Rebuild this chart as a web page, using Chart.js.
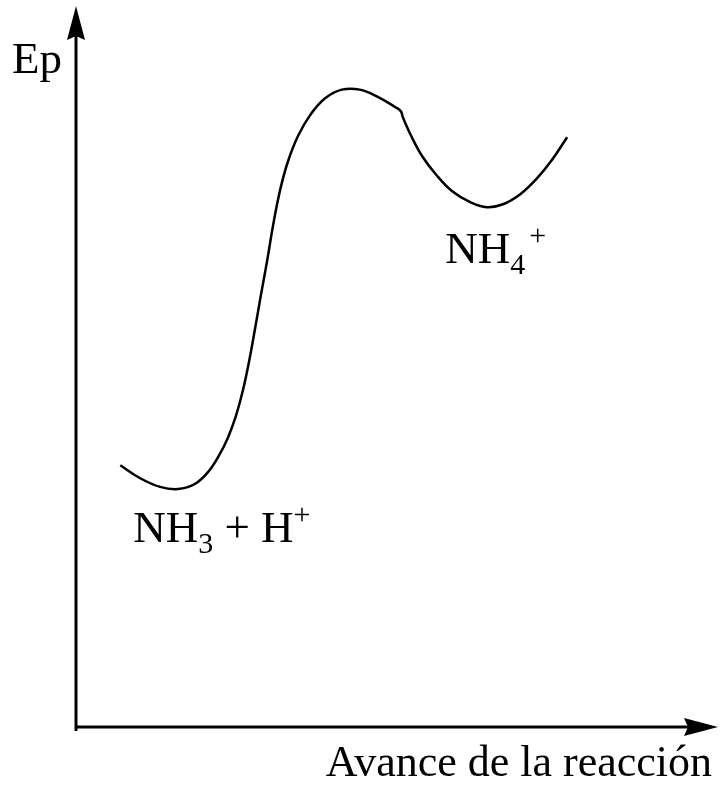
<!DOCTYPE html>
<html>
<head>
    <meta charset="utf-8">
    <title>Ep vs Avance de la reacción</title>
    <style>
        body {
            margin: 0;
            background-color: white;
        }
    </style>
</head>
<body>
    <canvas id="energyChart" width="722" height="786"></canvas>

    <script src="https://cdn.jsdelivr.net/npm/chart.js"></script>
    <script>
        // curve (x: reaction progress, y: Ep, both 0..10)
        const progress = [0.69, 1.00, 1.31, 1.59, 1.85, 2.06, 2.23, 2.37, 2.49, 2.60, 2.70, 2.79, 2.88, 2.98, 3.07, 3.18, 3.30, 3.46, 3.65, 3.88, 4.14, 4.42, 4.70, 4.97, 5.06, 5.09, 5.22, 5.39, 5.61, 5.86, 6.14, 6.40, 6.65, 6.92, 7.18, 7.41, 7.65];
        const energy = [3.63, 3.45, 3.33, 3.30, 3.37, 3.54, 3.77, 4.02, 4.31, 4.67, 5.09, 5.53, 5.99, 6.48, 6.96, 7.45, 7.84, 8.20, 8.49, 8.72, 8.84, 8.84, 8.74, 8.60, 8.54, 8.46, 8.20, 7.92, 7.66, 7.43, 7.28, 7.21, 7.25, 7.39, 7.61, 7.86, 8.18];

        const axisTitles = ['Ep', 'Avance de la reacción'];
        const reactants = { x: 0.89, y: 2.57, main: 'NH', sub: '3', rest: ' + H', sup: '+' };
        const product = { x: 5.75, y: 6.44, main: 'NH', sub: '4', rest: '', sup: '+' };

        const font = '"Times New Roman", Times, "Liberation Serif", "Nimbus Roman", "DejaVu Serif", serif';

        function arrow(ctx, tipX, tipY, dir) {
            // dir: 'up' or 'right'
            ctx.save();
            ctx.translate(tipX, tipY);
            if (dir === 'right') ctx.rotate(Math.PI / 2);
            ctx.beginPath();
            ctx.moveTo(0, 0);
            ctx.lineTo(9, 34);
            ctx.lineTo(0, 30);
            ctx.lineTo(-9, 34);
            ctx.closePath();
            ctx.fill();
            ctx.restore();
        }

        function formula(ctx, chart, f) {
            const x0 = chart.scales.x.getPixelForValue(f.x);
            const y0 = chart.scales.y.getPixelForValue(f.y);
            ctx.font = '45px ' + font;
            ctx.textBaseline = 'alphabetic';
            ctx.textAlign = 'left';
            let x = x0;
            ctx.fillText(f.main, x, y0);
            x += ctx.measureText(f.main).width;
            ctx.font = '30px ' + font;
            ctx.fillText(f.sub, x, y0 + 11);
            x += ctx.measureText(f.sub).width;
            ctx.font = '45px ' + font;
            if (f.rest) {
                ctx.fillText(f.rest, x, y0);
                x += ctx.measureText(f.rest).width;
            } else {
                x += 4;
            }
            ctx.font = '30px ' + font;
            ctx.fillText(f.sup, x, y0 - 18);
        }

        const decorations = {
            id: 'decorations',
            afterDraw(chart) {
                const ctx = chart.ctx;
                const area = chart.chartArea;
                ctx.save();
                ctx.strokeStyle = '#000';
                ctx.fillStyle = '#000';
                ctx.lineWidth = 3;

                // axes
                ctx.beginPath();
                ctx.moveTo(area.left, area.bottom + 4);
                ctx.lineTo(area.left, area.top + 30);
                ctx.moveTo(area.left, area.bottom);
                ctx.lineTo(area.right - 30, area.bottom);
                ctx.stroke();
                arrow(ctx, area.left, area.top, 'up');
                arrow(ctx, area.right, area.bottom, 'right');

                // titles
                ctx.font = '45px ' + font;
                ctx.textAlign = 'left';
                ctx.textBaseline = 'alphabetic';
                ctx.fillText(axisTitles[0], 12, 73);
                ctx.textAlign = 'right';
                ctx.font = '44px ' + font;
                ctx.fillText(axisTitles[1], 712, 776);

                formula(ctx, chart, reactants);
                formula(ctx, chart, product);
                ctx.restore();
            }
        };

        new Chart(document.getElementById('energyChart'), {
            type: 'line',
            data: {
                datasets: [{
                    data: progress.map((p, i) => ({ x: p, y: energy[i] })),
                    borderColor: '#000',
                    borderWidth: 2.5,
                    pointRadius: 0,
                    tension: 0.4,
                    fill: false
                }]
            },
            options: {
                responsive: false,
                animation: false,
                layout: { padding: { left: 76, right: 4, top: 6, bottom: 59 } },
                plugins: { legend: { display: false }, tooltip: { enabled: false } },
                scales: {
                    x: { type: 'linear', min: 0, max: 10, display: false },
                    y: { min: 0, max: 10, display: false }
                }
            },
            plugins: [decorations]
        });
    </script>
</body>
</html>
